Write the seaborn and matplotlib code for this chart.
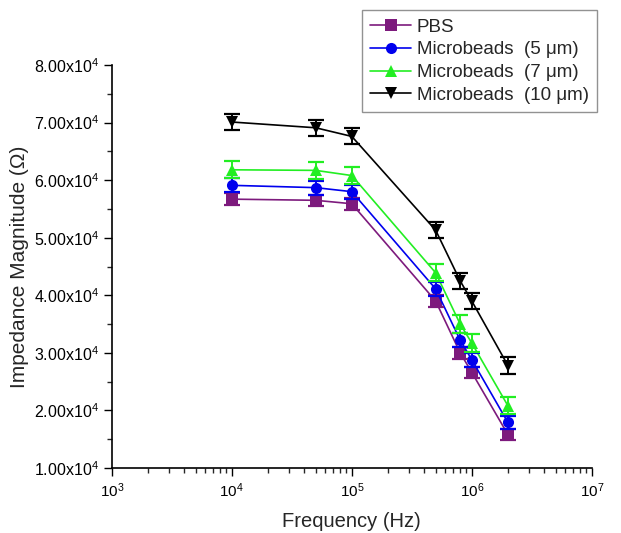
import numpy as np
import pandas as pd
import matplotlib
matplotlib.use("Agg")
import matplotlib.pyplot as plt
import seaborn as sns
from matplotlib.ticker import FuncFormatter, MultipleLocator, LogLocator, NullFormatter

freq = [1e4, 5e4, 1e5, 5e5, 8e5, 1e6, 2e6]
series_names = ["PBS", "Microbeads  (5 \u03bcm)", "Microbeads  (7 \u03bcm)", "Microbeads  (10 \u03bcm)"]
pbs = [5.67e4, 5.65e4, 5.59e4, 3.90e4, 3.00e4, 2.66e4, 1.58e4]
mb5 = [5.91e4, 5.87e4, 5.80e4, 4.11e4, 3.22e4, 2.88e4, 1.79e4]
mb7 = [6.18e4, 6.17e4, 6.08e4, 4.39e4, 3.50e4, 3.17e4, 2.08e4]
mb10 = [7.01e4, 6.91e4, 6.76e4, 5.13e4, 4.25e4, 3.90e4, 2.78e4]
err_pbs = [1000, 1000, 1000, 1000, 1000, 1000, 1000]
err_mb5 = [1200, 1200, 1200, 1200, 1200, 1200, 1200]
err_mb7 = [1500, 1500, 1500, 1500, 1500, 1500, 1500]
err_mb10 = [1400, 1400, 1400, 1400, 1400, 1400, 1400]

colors = ["#7d1a7d", "#0000ee", "#22ee22", "#000000"]
markers = ["s", "o", "^", "v"]

values = [pbs, mb5, mb7, mb10]
errors = [err_pbs, err_mb5, err_mb7, err_mb10]
rows = []
for name, v, e in zip(series_names, values, errors):
    for f, y, er in zip(freq, v, e):
        rows.append({"Frequency": f, "Impedance": y, "err": er, "Series": name})
df = pd.DataFrame(rows)

sns.set_theme(style="ticks")
plt.rcParams["font.family"] = ["Liberation Sans", "DejaVu Sans"]
plt.rcParams["mathtext.fontset"] = "custom"
plt.rcParams["mathtext.rm"] = "Liberation Sans"
plt.rcParams["mathtext.it"] = "Liberation Sans:italic"

fig = plt.figure(figsize=(6.21, 5.33), dpi=100)
ax = fig.add_axes([0.180, 0.122, 0.773, 0.756])

sns.lineplot(data=df, x="Frequency", y="Impedance", hue="Series", style="Series",
             palette=colors, markers=markers, dashes=False, markersize=8,
             markeredgewidth=0, linewidth=1.2, ax=ax, legend=True, errorbar=None)

for name, c in zip(series_names, colors):
    sub = df[df["Series"] == name]
    ax.errorbar(sub["Frequency"], sub["Impedance"], yerr=sub["err"], fmt="none",
                ecolor=c, elinewidth=1.4, capsize=5.5, capthick=1.6, zorder=3)

ax.set_xscale("log")
ax.set_xlim(1e3, 1e7)
ax.set_ylim(1e4, 8e4)
ax.yaxis.set_major_locator(MultipleLocator(1e4))
ax.yaxis.set_minor_locator(MultipleLocator(5e3))

def yfmt(v, pos):
    return r"%.2fx10$^{%d}$" % (v / 1e4, 4)
ax.yaxis.set_major_formatter(FuncFormatter(yfmt))

ax.xaxis.set_major_locator(LogLocator(base=10, numticks=10))
ax.xaxis.set_minor_locator(LogLocator(base=10, subs=np.arange(2, 10), numticks=20))
ax.xaxis.set_minor_formatter(NullFormatter())

ax.tick_params(axis="y", which="major", direction="out", length=6, width=1, labelsize=11.5, colors="black", pad=3)
ax.tick_params(axis="x", which="major", direction="out", length=6, width=1, labelsize=11, colors="black", pad=4)
ax.tick_params(axis="both", which="minor", direction="out", length=3.5, width=1)
for s in ["left", "bottom"]:
    ax.spines[s].set_linewidth(1.2)
    ax.spines[s].set_color("black")
sns.despine(ax=ax)

ax.set_xlabel("Frequency (Hz)", fontsize=14.5, labelpad=8)
ax.set_ylabel("Impedance Magnitude (\u03a9)", fontsize=15, labelpad=4)

handles, labels = ax.get_legend_handles_labels()
leg = ax.legend(handles, labels, loc="upper right", bbox_to_anchor=(0.962, 0.981),
                bbox_transform=fig.transFigure, fontsize=13.5, frameon=True, fancybox=False,
                handlelength=2.2, handletextpad=0.3, borderpad=0.45, labelspacing=0.3,
                borderaxespad=0)
leg.get_frame().set_edgecolor("#777777")
leg.get_frame().set_linewidth(1.0)

fig.savefig("out.png", dpi=100)
